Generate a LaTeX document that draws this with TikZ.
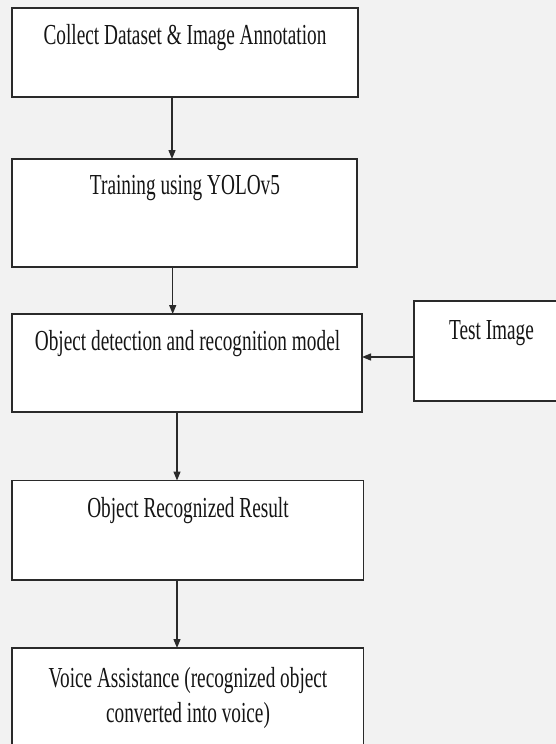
\documentclass[tikz,border=0pt]{standalone}
\usepackage{fontspec}
\setmainfont{Liberation Serif}[FakeStretch=0.665]
\usetikzlibrary{arrows.meta}
\definecolor{bgc}{HTML}{F2F2F2}
\definecolor{linec}{HTML}{2A2A2A}
\definecolor{txtc}{HTML}{151515}
\begin{document}
\begin{tikzpicture}[x=1pt,y=-1pt,
  box/.style={draw=linec, line width=1.4pt, fill=white, inner sep=0pt, outer sep=0pt, anchor=north west},
  txt/.style={font=\fontsize{29}{35}\selectfont, text=txtc, inner sep=0pt, anchor=base, align=center},
  arr/.style={draw=linec, line width=1.3pt, -{Triangle[length=9pt,width=7pt]}}]
\useasboundingbox (0,0) rectangle (556,744);
\fill[bgc] (0,0) rectangle (556,744);
\begin{scope}
\clip (0,0) rectangle (556,744);
\node[box, minimum width=346pt, minimum height=89pt] (b1) at (12,8) {};
\node[box, minimum width=345pt, minimum height=108pt] (b2) at (12,159) {};
\node[box, minimum width=350pt, minimum height=98pt] (b3) at (12,314) {};
\node[box, minimum width=155pt, minimum height=100pt] (test) at (414,301) {};
\node[box, minimum width=351.5pt, minimum height=99.5pt] (b4) at (12,480.5) {};
\node[box, minimum width=351.5pt, minimum height=120pt] (b5) at (12,648) {};

\node[txt] (t1) at (185,44) {Collect Dataset \& Image Annotation};
\node[txt] (t2) at (185,194) {Training using YOLOv5};
\node[txt] (t3) at (187.5,350) {Object detection and recognition model};
\node[txt] (tt) at (491.5,339) {Test Image};
\node[txt] (t4) at (188,517) {Object Recognized Result};
\node[txt] (t5) at (188,722) {Voice Assistance (recognized object\\converted into voice)};

\draw[arr] ([xshift=-13pt]b1.south) -- ([xshift=-13pt]b1.south |- b2.north);
\draw[arr] ([xshift=-11.8pt]b2.south) -- ([xshift=-11.8pt]b2.south |- b3.north);
\draw[arr] ([xshift=-10pt]b3.south) -- ([xshift=-10pt]b3.south |- b4.north);
\draw[arr] ([xshift=-10.75pt]b4.south) -- ([xshift=-10.75pt]b4.south |- b5.north);
\draw[arr] ([yshift=-6pt]test.west) -- ([yshift=-6pt]test.west -| b3.east);
\end{scope}
\end{tikzpicture}
\end{document}
